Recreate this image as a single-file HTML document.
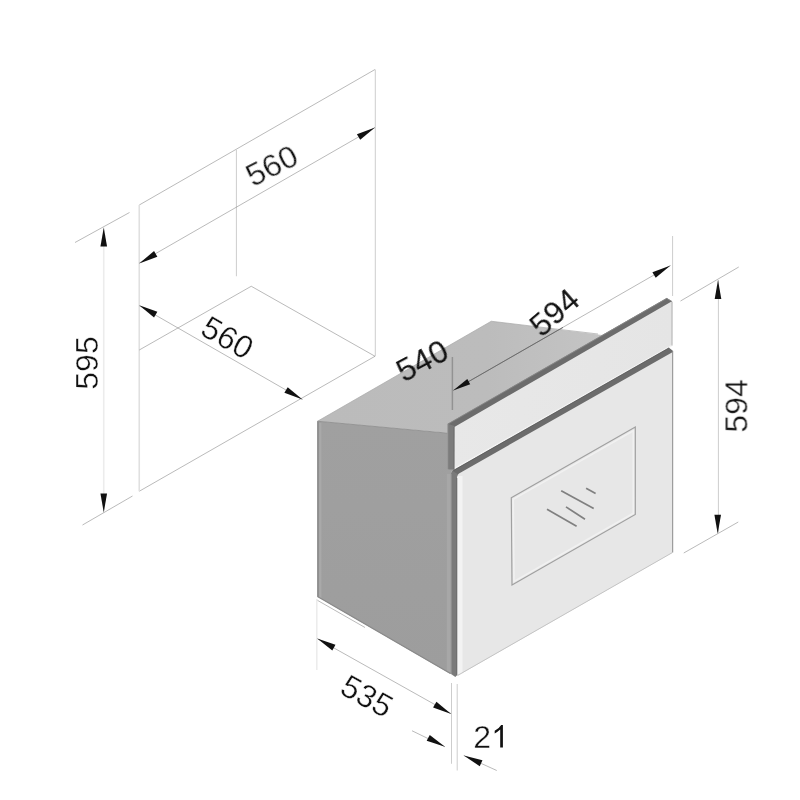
<!DOCTYPE html>
<html>
<head>
<meta charset="utf-8">
<title>Oven dimensions</title>
<style>
html,body{margin:0;padding:0;background:#fff;}
body{width:800px;height:800px;overflow:hidden;font-family:"Liberation Sans",sans-serif;}
svg{display:block;}
text{font-family:"Liberation Sans",sans-serif;font-size:32px;fill:#111;}
.l{stroke:#808080;stroke-width:0.55;fill:none;}
.v{stroke:#cdcdcd;stroke-width:1;}
.vv{stroke:#e0e0e0;stroke-width:1.6;}
.vvv{stroke:#ececec;stroke-width:1.6;}
.a{fill:#111;stroke:none;}
.w{stroke:#fff;stroke-width:0.4px;}
</style>
</head>
<body>
<svg width="800" height="800" viewBox="0 0 800 800">
<defs>
<linearGradient id="gtop" x1="0" y1="0" x2="1" y2="0">
<stop offset="0" stop-color="#bbbbbb"/><stop offset="0.6" stop-color="#bcbcbc"/><stop offset="1" stop-color="#c4c4c4"/>
</linearGradient>
<linearGradient id="gside" x1="0" y1="0" x2="0" y2="1">
<stop offset="0" stop-color="#a0a0a0"/><stop offset="1" stop-color="#9d9d9d"/>
</linearGradient>
<linearGradient id="gpanel" x1="0" y1="0" x2="1" y2="0">
<stop offset="0" stop-color="#e8e8e8"/><stop offset="1" stop-color="#e5e5e5"/>
</linearGradient>
</defs>
<rect width="800" height="800" fill="#fff"/>

<!-- cabinet wireframe -->
<g class="l">
<path d="M139.25 205 L375 69.5"/>
<path d="M139.25 491.25 L375 356.25"/>
<path class="vv" d="M139.25 205 L139.25 491.25"/>
<path class="v" d="M375.3 69.5 L375.3 356.25"/>
<path class="v" d="M236.4 149.5 L236.4 276.25"/>
<path d="M139.25 350 L251.25 286.25 L375 356.25"/>
<path d="M139.25 263 L375 127.5"/>
<path d="M139.25 305.75 L302.5 399.5"/>
<path class="vvv" d="M103.75 227.5 L103.75 512.5"/>
<path d="M75 242.5 L129.5 212.5"/>
<path d="M82.5 525 L132.5 496"/>
</g>

<!-- oven -->
<polygon points="447.6,423.7 666.75,298 672.4,301.4 672.2,346 669.4,348 672.7,351 672.7,552.5 457.3,676 451,675 451,470 447.6,469.5" fill="#f3f3f3"/>

<polygon points="317.5,421.25 491.25,321.25 602,335 470,420 452,434 449,433" fill="url(#gtop)"/>
<path d="M317.5 421.25 L491.25 321.25 L598 334" stroke="#a8a8a8" stroke-width="0.7" fill="none"/>
<polygon points="317.5,421.25 449,433.2 452,433.5 452,470 454,471 454,675 450.5,674 317.5,596.8" fill="url(#gside)"/>
<path d="M448.6 471 L448.6 672" stroke="#a7a7a7" stroke-width="3.5" fill="none"/>
<polygon points="446.8,469 454.5,469 454.5,474 446.8,474" fill="#a0a0a0"/>
<path d="M317.9 421.25 L317.9 596.8" stroke="#828282" stroke-width="1.3" fill="none"/>
<path d="M320.3 423 L320.3 598" stroke="#a9a9a9" stroke-width="2.2" fill="none"/>
<path d="M317.5 421.25 L448 433.2" stroke="#909090" stroke-width="0.9" fill="none"/>
<path d="M317.5 596.4 L450.5 673.6" stroke="#8a8a8a" stroke-width="1.2" fill="none"/>
<path d="M316 599.5 L365 627.5" class="l" stroke="#999"/>

<!-- control panel -->
<polygon points="447.6,423.7 666.75,298 672.4,301.4 672.2,344.6 454,468 447.6,469.5" fill="url(#gpanel)"/>
<path d="M672 302 L672 345.6" stroke="#aaa" stroke-width="0.9" fill="none"/>
<polygon points="447.6,423.7 666.75,298 672.4,301.4 671.5,301.6 454.4,426.9 451,428.5" fill="#6c6c6c"/>
<polygon points="447.6,423.7 454.4,425.9 454.2,469.5 447.6,469.5" fill="#7c7c7c"/>
<path d="M448 469.3 L448 424 L666.75 298.4 L672 301.6" stroke="#8c8c8c" stroke-width="0.8" fill="none"/>
<path d="M454 427 L454 469.3" stroke="#6a6a6a" stroke-width="0.9" fill="none"/>
<!-- door -->
<polygon points="451,472 669,348.2 672.7,351 672.7,552.5 457.3,676 451,675" fill="#e7e7e7"/>
<path d="M460 476 L460 674" stroke="#f3f3f3" stroke-width="5" fill="none"/>
<path d="M451.2 473.8 Q451.2 471.5 453.4 470.3 L669 347.7 L672.8 350.8 L672.8 352.1 L459 473.4 Q457 474.6 457 477 Z" fill="#6c6c6c"/>
<path d="M453.4 470.5 L669 347.9" stroke="#585858" stroke-width="0.8" fill="none"/>
<path d="M451.2 674 L451.2 473.8 Q451.2 472 452.6 471 L458 474.2 Q457 475.2 457 477 L457 675.3 L455.3 677 Z" fill="#7a7a7a"/>
<path d="M451.5 674 L451.5 474" stroke="#8c8c8c" stroke-width="0.7" fill="none"/>
<path d="M456.8 478 L456.8 675" stroke="#6a6a6a" stroke-width="0.9" fill="none"/>
<path d="M672.7 351 L672.7 552.5" stroke="#8c8c8c" stroke-width="1" fill="none"/>
<path d="M457.5 675.5 L672.5 552.5" stroke="#c4c4c4" stroke-width="1" fill="none"/>

<!-- window -->
<polygon points="511.3,497.8 635.3,427.1 635.3,514.5 512,585" fill="none" stroke="#a0a0a0" stroke-width="1.2"/>
<polygon points="513.2,499.4 633.3,430.8 633.3,513.2 514,581.4" fill="none" stroke="#f1f1f1" stroke-width="1.6"/>
<g stroke="#808080" stroke-width="1.7" fill="none">
<path d="M547 509.2 L576.6 526.3"/>
<path d="M561.2 490.7 L593.7 508.5"/>
<path d="M566 506.9 L585 519.2"/>
<path d="M586.1 488.3 L595.6 493.6"/>
</g>

<!-- oven dims -->
<g class="l">
<path d="M452.4 357 L452.4 410" stroke="#929292" stroke-width="1.5"/>
<path d="M453 390.5 L670.5 265.5"/>
<path d="M468 381.9 L563 327.4" stroke="#6c6c6c" stroke-width="1"/>
<path class="v" d="M672.6 236 L672.6 296"/>
<path d="M680.5 301 L738.75 267"/>
<path d="M683.75 553 L738.25 522"/>
<path class="v" d="M718.4 280 L718.4 533.75" stroke="#d4d4d4"/>
<path class="vvv" d="M316.8 599 L316.8 670"/>
<path d="M317.5 638.75 L451.25 713.75"/>
<path class="v" d="M451.5 683 L451.5 763.75" stroke="#d0d0d0"/>
<path class="v" d="M457.2 684 L457.2 770.5" stroke="#dcdcdc"/>
<path d="M412 730.75 L445 746.8"/>
<path d="M463.75 755.5 L496.75 770.5"/>
</g>

<!-- arrows -->
<g class="a">
<polygon points="139.25,263.40 154.05,251.04 157.35,256.76"/>
<polygon points="375.00,127.50 360.20,139.86 356.90,134.14"/>
<polygon points="139.25,305.20 157.35,311.84 154.05,317.56"/>
<polygon points="302.50,399.50 284.40,392.86 287.70,387.14"/>
<polygon points="453.10,390.50 467.29,379.03 470.24,384.25"/>
<polygon points="670.50,265.50 655.70,277.86 652.40,272.14"/>
<polygon points="317.20,638.60 335.47,644.77 332.32,650.57"/>
<polygon points="451.20,714.10 433.10,707.46 436.40,701.74"/>
<polygon points="445.00,746.80 426.67,740.79 429.77,734.97"/>
<polygon points="463.75,755.50 482.45,760.21 479.77,766.24"/>
<polygon points="103.75,227.50 107.05,246.50 100.45,246.50"/>
<polygon points="103.75,512.50 100.45,493.50 107.05,493.50"/>
<polygon points="718.00,280.00 721.30,299.00 714.70,299.00"/>
<polygon points="717.70,533.75 714.40,514.75 721.00,514.75"/>
</g>

<!-- texts -->
<g id="txt" opacity="0.999">
<text class="w" x="0" y="0" text-anchor="middle" transform="translate(271.8,165.6) rotate(-27)" dy="11.45">560</text>
<text class="w" x="0" y="0" text-anchor="middle" transform="translate(227.7,337.2) rotate(30)" dy="11.45">560</text>
<text class="w" x="0" y="0" text-anchor="middle" transform="translate(86.6,363) rotate(-90)" dy="11.45">595</text>
<text x="0" y="0" text-anchor="middle" transform="translate(422.2,360.6) rotate(-28)" dy="11.45">540</text>
<text x="0" y="0" text-anchor="middle" transform="translate(554.4,312.4) rotate(-41)" dy="11.45">594</text>
<text class="w" x="0" y="0" text-anchor="middle" transform="translate(736.4,405.9) rotate(-90)" dy="11.45">594</text>
<text class="w" x="0" y="0" text-anchor="middle" transform="translate(367.2,695.7) rotate(29)" dy="11.45">535</text>
<text class="w" x="473.3" y="747.5">2</text>
<path class="a" d="M502.9 725.1 L502.9 747.4 L500.2 747.4 L500.2 729.6 Q497.8 731.9 494.7 733.4 L494.7 730.7 Q499.2 728.6 501.2 725.1 Z"/>
</g>
</svg>
</body>
</html>
